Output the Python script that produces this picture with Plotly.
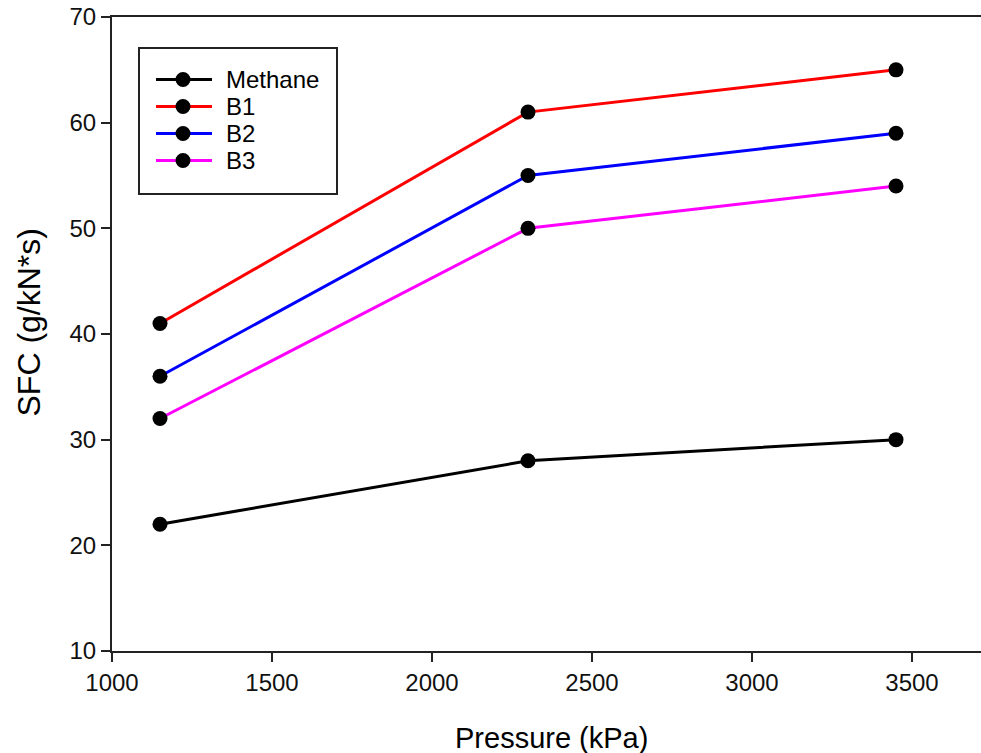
import plotly.graph_objects as go

# Pressure (kPa) and specific fuel consumption (g/kN*s) per fuel
pressure = [1150, 2300, 3450]
series_names = ["Methane", "B1", "B2", "B3"]
sfc_methane = [22, 28, 30]
sfc_b1 = [41, 61, 65]
sfc_b2 = [36, 55, 59]
sfc_b3 = [32, 50, 54]
line_colors = ["#000000", "#ff0000", "#0000ff", "#ff00ff"]

x_ticks = [1000, 1500, 2000, 2500, 3000, 3500]
y_ticks = [10, 20, 30, 40, 50, 60, 70]

FONT = "Liberation Sans, Arial, sans-serif"
AXIS_COLOR = "#222222"

fig = go.Figure()
for name, vals, col in zip(series_names, [sfc_methane, sfc_b1, sfc_b2, sfc_b3], line_colors):
    fig.add_trace(go.Scatter(
        x=pressure, y=vals, name=name, mode="lines+markers",
        line=dict(color=col, width=3),
        marker=dict(color="black", size=15, symbol="circle"),
        showlegend=False,
    ))

W, H = 981, 753
ml, mr, mt, mb = 112, 0, 17, 102
plot_w, plot_h = W - ml - mr, H - mt - mb
px_per_unit = 800 / 2500  # 1000..3500 spans 800 px
x_max = 1000 + plot_w / px_per_unit


def px_x(px):
    """Page pixel column -> paper x."""
    return (px - ml) / plot_w


def px_y(py):
    """Page pixel row -> paper y."""
    return (H - mb - py) / plot_h


shapes = []
annotations = []

# Legend panel drawn in paper coordinates
shapes.append(dict(type="rect", xref="paper", yref="paper",
                   x0=px_x(139), x1=px_x(337), y0=px_y(194), y1=px_y(48),
                   line=dict(color=AXIS_COLOR, width=2), fillcolor="white", layer="above"))
legend_rows = [79.5, 106.5, 133.5, 160.5]
r = 7.5
for name, col, yy in zip(series_names, line_colors, legend_rows):
    shapes.append(dict(type="line", xref="paper", yref="paper",
                       x0=px_x(156), x1=px_x(212), y0=px_y(yy), y1=px_y(yy),
                       line=dict(color=col, width=3), layer="above"))
    shapes.append(dict(type="circle", xref="paper", yref="paper",
                       x0=px_x(183 - r), x1=px_x(183 + r), y0=px_y(yy + r), y1=px_y(yy - r),
                       line=dict(color="black", width=0), fillcolor="black", layer="above"))
    annotations.append(dict(text=name, xref="paper", yref="paper",
                            x=px_x(224), y=px_y(yy), xanchor="left", yanchor="middle",
                            showarrow=False, font=dict(family=FONT, size=24, color="black")))

# Axis titles
annotations.append(dict(text="Pressure (kPa)", xref="paper", yref="paper",
                        x=px_x(551), y=px_y(738), xanchor="center", yanchor="middle",
                        showarrow=False, font=dict(family=FONT, size=29, color="black")))
annotations.append(dict(text="SFC (g/kN*s)", xref="paper", yref="paper",
                        x=px_x(28), y=px_y(322.5), xanchor="center", yanchor="middle",
                        textangle=-90, showarrow=False,
                        font=dict(family=FONT, size=32, color="black")))

fig.update_layout(
    width=W, height=H,
    margin=dict(l=ml, r=mr, t=mt, b=mb),
    paper_bgcolor="white", plot_bgcolor="white",
    font=dict(family=FONT, color="black", size=24),
    showlegend=False,
    shapes=shapes,
    annotations=annotations,
    xaxis=dict(
        range=[1000, x_max], tickvals=x_ticks,
        showgrid=False, zeroline=False,
        showline=True, linecolor=AXIS_COLOR, linewidth=2, mirror=True,
        ticks="outside", ticklen=9, tickwidth=2, tickcolor=AXIS_COLOR,
        tickfont=dict(family=FONT, size=24, color="#111111"),
    ),
    yaxis=dict(
        range=[10, 70], tickvals=y_ticks,
        showgrid=False, zeroline=False,
        showline=True, linecolor=AXIS_COLOR, linewidth=2, mirror=False,
        ticks="outside", ticklen=9, tickwidth=2, tickcolor=AXIS_COLOR,
        tickfont=dict(family=FONT, size=24, color="#111111"),
        ticksuffix="\u00a0",
    ),
)

fig.write_html("out.html")
